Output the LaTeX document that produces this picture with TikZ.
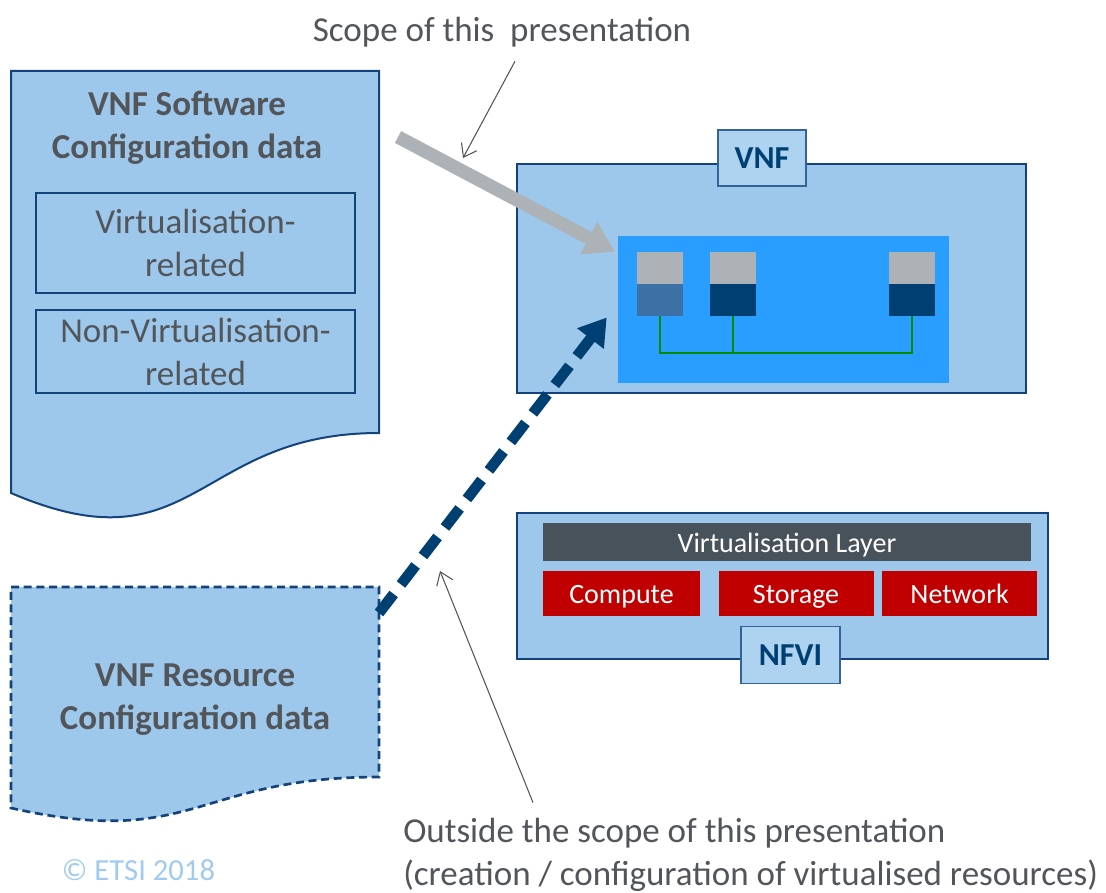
\documentclass[tikz,border=0pt]{standalone}
\usepackage{fontspec}
\setmainfont{Carlito}
\usetikzlibrary{positioning,calc,arrows.meta}

\definecolor{boxblue}{RGB}{157,200,236}
\definecolor{tagblue}{RGB}{174,211,240}
\definecolor{edgeblue}{RGB}{20,66,122}
\definecolor{tagedge}{RGB}{52,100,150}
\definecolor{navy}{RGB}{0,63,114}
\definecolor{midblue}{RGB}{61,113,165}
\definecolor{skyblue}{RGB}{42,158,255}
\definecolor{srvgray}{RGB}{172,178,182}
\definecolor{txtgray}{RGB}{82,86,90}
\definecolor{laygray}{RGB}{72,82,90}
\definecolor{resred}{RGB}{192,0,0}
\definecolor{busgreen}{RGB}{0,140,0}
\definecolor{etsiblue}{RGB}{160,203,238}

\tikzset{
  wh/.style 2 args={minimum width=#1*0.75pt, minimum height=#2*0.75pt},
  doc/.style={draw=edgeblue, fill=boxblue, line width=1.5pt},
  title/.style={text=txtgray, align=center, inner sep=0pt, font=\fontsize{26.25}{32.25}\selectfont\bfseries},
  part/.style={draw=edgeblue, line width=1.5pt, inner sep=0pt, text=txtgray, align=center, font=\fontsize{26.25}{32.25}\selectfont},
  note/.style={text=txtgray, inner sep=0pt, font=\fontsize{26.25}{32.25}\selectfont},
  tag/.style={draw=tagedge, fill=tagblue, line width=1pt, text=navy, inner sep=0pt, font=\fontsize{24}{28}\selectfont\bfseries},
  srv/.style={fill=srvgray, inner sep=0pt, outer sep=0pt},
  layer/.style={fill=laygray, text=white, inner sep=0pt, text height=17pt, text depth=2pt, font=\fontsize{21}{25}\selectfont},
  res/.style={fill=resred, text=white, inner sep=0pt, text height=17pt, text depth=2pt, font=\fontsize{21}{25}\selectfont},
  bus/.style={draw=busgreen, line width=2pt},
  feed/.style={draw=srvgray, line width=10pt, -{Triangle[length=22pt,width=26pt]}},
  deploy/.style={draw=navy, line width=8pt, dash pattern=on 18pt off 9pt, -{Triangle[length=20pt,width=24pt]}},
  lead/.style={draw=txtgray, line width=0.8pt, -{Straight Barb[length=9pt,width=13pt]}}
}

\begin{document}
\begin{tikzpicture}[x=0.75pt, y=-0.75pt]
\useasboundingbox (0,0) rectangle (1106,892);

% software configuration data
\draw[doc] (11,71) -- (379,71) -- (379,433) .. controls (195,433) and (195,572) .. (11,493) -- cycle;
\node[title] (swtitle) at (187,128) {VNF Software\\Configuration data};
\node[part, wh={319}{100}] (virt) at (195.5,243) {Virtualisation-\\related};
\node[part, wh={319}{83}] (nonvirt) at (195.5,351.5) {Non-Virtualisation-\\related};

% resource configuration data
\draw[doc, line width=2pt, dash pattern=on 6pt off 3.5pt] (11,587) -- (379,587) -- (379,777) .. controls (195,777) and (195,849.5) .. (11,808) -- cycle;
\node[title] (rstitle) at (195,700) {VNF Resource\\Configuration data};

% VNF
\node[doc, wh={509}{229}] (vnf) at (771.5,278.5) {};
\node[fill=skyblue, inner sep=0pt, wh={331}{147}] (app) at (783.5,309.5) {};
\node[srv, wh={46}{32}] (s1t) at (660,268) {};
\node[srv, fill=midblue, wh={46}{32}, below=0pt of s1t] (s1b) {};
\node[srv, wh={46}{32}, right=20.25pt of s1t] (s2t) {};
\node[srv, fill=navy, wh={46}{32}, below=0pt of s2t] (s2b) {};
\node[srv, wh={46}{32}] (s3t) at (912,268) {};
\node[srv, fill=navy, wh={46}{32}, below=0pt of s3t] (s3b) {};
\coordinate (bus) at (0,353);
\draw[bus] (s1b.south) |- (s3b.south |- bus) -- (s3b.south);
\draw[bus] (s2b.south) -- (s2b.south |- bus);
\node[tag, wh={88}{56}] (vnftag) at (762,158) {VNF};

% NFVI
\node[doc, wh={531}{146}] (nfvi) at (782,585.5) {};
\node[layer, wh={488}{38}] (vlayer) at (787,542) {Virtualisation Layer};
\node[res, wh={157}{45}] (compute) at (621.5,593.5) {Compute};
\node[res, wh={155}{45}, right=13.5pt of compute] (storage) {Storage};
\node[res, wh={155}{45}, right=6pt of storage] (network) {Network};
\node[tag, wh={99}{57}] (nfvitag) at (790.5,655) {NFVI};

% arrows
\coordinate (swout) at (398,137);
\draw[feed] (swout) -- ($(app.north west)+(-3,16)$);
\coordinate (rsout) at (379,613);
\draw[deploy] (rsout) -- ($(app.west)+(-11,8)$);

% notes
\node[note] (scope) at (502,32) {Scope of this\ \ presentation};
\coordinate (scopetip) at (463,158);
\draw[lead] ($(scope.south)+(13,14)$) -- (scopetip);
\node[note, anchor=west, align=left] (outside) at (403,854.5) {Outside the scope of this presentation\\(creation / configuration of virtualised resources)};
\coordinate (outtip) at (440,571);
\draw[lead] ($(outside.north west)+(130,-15)$) -- (outtip);
\node[text=etsiblue, inner sep=0pt, font=\fontsize{23}{27}\selectfont] (etsi) at (138.5,870) {© ETSI 2018};
\end{tikzpicture}
\end{document}
